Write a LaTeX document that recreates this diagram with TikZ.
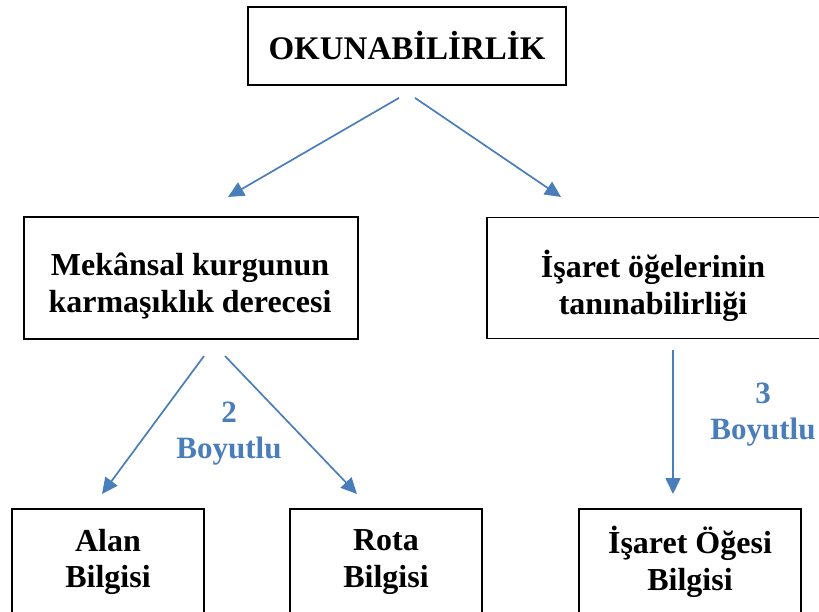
\documentclass[tikz,border=0pt]{standalone}
\usepackage{fontspec}
\setmainfont{Liberation Serif}
\usetikzlibrary{arrows.meta,calc}
\definecolor{arrowblue}{HTML}{4A7EBB}
\begin{document}
\begin{tikzpicture}[x=1pt,y=-1pt,
  box/.style={draw=black,line width=1.8pt,inner sep=0pt,align=center,
    font=\fontsize{32}{36.5}\selectfont\bfseries},
  txt/.style={inner sep=0pt,align=center,font=\fontsize{32}{36.5}\selectfont\bfseries},
  lbl/.style={inner sep=0pt,align=center,text=arrowblue,font=\fontsize{31}{36}\selectfont\bfseries},
  conn/.style={draw=arrowblue,line width=1.7pt,-{Triangle[length=16pt,width=15pt]}}]
\useasboundingbox (0,0) rectangle (819,611);
\clip (0,0) rectangle (819,611);
\fill[white] (0,0) rectangle (819,611);
% boxes
\node[box,minimum width=318pt,minimum height=78pt,font=\fontsize{33}{36}\selectfont\bfseries] (top) at (407,46) {OKUNABİLİRLİK};
\node[box,minimum width=334pt,minimum height=122pt] (lm) at (191,278) {};
\node[txt] (lmt) at (190,286) {Mekânsal kurgunun\\karmaşıklık derecesi};
\node[box,minimum width=334pt,minimum height=121pt] (rm) at (654,278) {};
\node[txt] (rmt) at (653,286) {İşaret öğelerinin\\tanınabilirliği};
\node[box,minimum width=192pt,minimum height=140pt] (alan) at (108,579) {};
\node[txt] (alant) at (108,562) {Alan\\Bilgisi};
\node[box,minimum width=192pt,minimum height=140pt] (rota) at (386,579) {};
\node[txt] (rotat) at (386,562) {Rota\\Bilgisi};
\node[box,minimum width=222pt,minimum height=140pt] (isaret) at (690,579) {};
\node[txt] (isarett) at (690,562) {İşaret Öğesi\\Bilgisi};
% labels
\node[lbl] (l2) at (229,434) {2\\Boyutlu};
\node[lbl] (l3) at (763,415) {3\\Boyutlu};
% connector ends
\coordinate (a1s) at ($(top.south)+(-8,12)$);
\coordinate (a1e) at (228,197);
\coordinate (a2s) at ($(top.south)+(8,12)$);
\coordinate (a2e) at (561,197);
\coordinate (b1s) at (204,356);
\coordinate (b1e) at (102,494);
\coordinate (b2s) at (225,356);
\coordinate (b2e) at (357,494);
\coordinate (c1s) at (673,350);
\coordinate (c1e) at (673,494);
\draw[conn] (a1s) -- (a1e);
\draw[conn] (a2s) -- (a2e);
\draw[conn] (b1s) -- (b1e);
\draw[conn] (b2s) -- (b2e);
\draw[conn] (c1s) -- (c1e);
\end{tikzpicture}
\end{document}
